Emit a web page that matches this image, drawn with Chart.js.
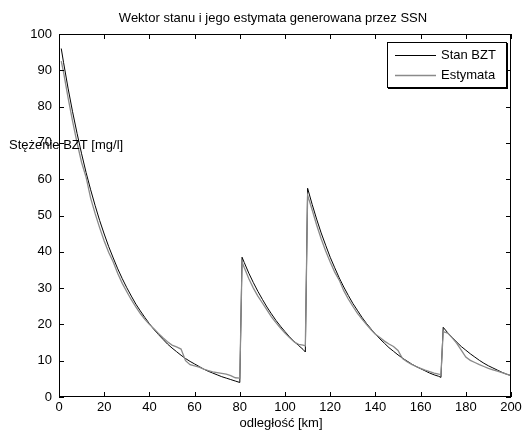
<!DOCTYPE html>
<html>
<head>
<meta charset="utf-8">
<script src="https://cdn.jsdelivr.net/npm/chart.js@4.4.1/dist/chart.umd.min.js"></script>
<style>
  html, body { margin: 0; padding: 0; background: #fff; }
  #wrap { width: 531px; height: 433px; }
</style>
</head>
<body>
<div id="wrap"><canvas id="bztChart" width="531" height="433"></canvas></div>
<script>
// odległość [km] - punkty pomiarowe
const kmPoints = [
  1, 2, 4, 6, 8, 10, 12, 14, 16, 18, 20, 22, 24, 26, 28, 30, 32, 34, 36, 38, 40,
  42, 44, 46, 48, 50, 52, 54, 56, 58, 60, 62, 64, 66, 68, 70, 72, 74, 76, 78, 80,
  81, 82, 84, 86, 88, 90, 92, 94, 96, 98, 100, 102, 104, 106, 108, 109,
  110, 112, 114, 116, 118, 120, 122, 124, 126, 128, 130, 132, 134, 136, 138, 140,
  142, 144, 146, 148, 150, 152, 154, 156, 158, 160, 162, 164, 166, 168, 169,
  170, 172, 174, 176, 178, 180, 182, 184, 186, 188, 190, 192, 194, 196, 198, 200
];

// Stan BZT [mg/l]
const stateValues = [
  96.0, 92.2, 85.1, 78.6, 72.6, 67.0, 61.8, 57.1, 52.7, 48.6, 44.9, 41.4, 38.3, 35.3, 32.6, 30.1, 27.8, 25.6, 23.7, 21.9, 20.2,
  18.6, 17.2, 15.9, 14.6, 13.5, 12.5, 11.5, 10.6, 9.8, 9.1, 8.4, 7.7, 7.1, 6.6, 6.1, 5.6, 5.2, 4.8, 4.4, 4.0,
  38.5, 37.0, 34.1, 31.5, 29.1, 26.9, 24.8, 22.9, 21.1, 19.5, 18.0, 16.6, 15.3, 14.2, 13.1, 12.4,
  57.5, 53.1, 49.0, 45.2, 41.8, 38.5, 35.6, 32.8, 30.3, 28.0, 25.8, 23.9, 22.0, 20.3, 18.8, 17.3,
  16.0, 14.8, 13.6, 12.6, 11.6, 10.7, 9.9, 9.1, 8.4, 7.8, 7.2, 6.6, 6.1, 5.7, 5.4,
  19.2, 17.7, 16.4, 15.1, 13.9, 12.9, 11.9, 11.0, 10.1, 9.3, 8.6, 8.0, 7.4, 6.8, 6.3, 5.9
];

// Estymata generowana przez SSN [mg/l]
const estimateValues = [
  92.5, 89.5, 82.5, 76.0, 70.0, 64.6, 60.5, 54.8, 50.5, 46.6, 43.0, 39.8, 37.2, 34.0, 31.3, 29.0, 26.8, 24.8, 23.0, 21.4, 20.0,
  18.8, 17.5, 16.3, 15.2, 14.3, 13.8, 13.2, 10.0, 8.9, 8.6, 8.2, 7.7, 7.3, 6.9, 6.7, 6.5, 6.3, 5.9, 5.3, 5.2,
  37.2, 35.6, 32.6, 30.0, 27.8, 25.9, 24.0, 22.1, 20.5, 19.0, 17.6, 16.4, 15.2, 14.5, 14.3, 14.1,
  55.6, 51.6, 47.4, 43.6, 40.2, 37.2, 34.4, 32.2, 29.3, 27.0, 25.0, 23.1, 21.5, 20.0, 18.6, 17.3,
  16.4, 15.4, 14.6, 13.9, 12.8, 10.6, 9.7, 9.0, 8.4, 7.9, 7.4, 7.0, 6.6, 6.3, 6.2,
  18.0, 17.6, 16.3, 14.8, 12.9, 11.0, 10.1, 9.5, 8.9, 8.4, 7.9, 7.5, 7.1, 6.7, 6.3, 5.9
];

const seriesNames = ['Stan BZT', 'Estymata'];
const seriesColors = ['#000000', '#8a8a8a'];
const xTicks = [0, 20, 40, 60, 80, 100, 120, 140, 160, 180, 200];
const yTicks = [0, 10, 20, 30, 40, 50, 60, 70, 80, 90, 100];

const FONT = 'Arial, "Liberation Sans", Helvetica, sans-serif';

// ramka, znaczniki do środka, tytuły i legenda w stylu MATLABa
const matlabDecor = {
  id: 'matlabDecor',
  afterDraw(chart) {
    const { ctx, chartArea: a, scales: { x, y } } = chart;
    ctx.save();
    ctx.strokeStyle = '#000';
    ctx.lineWidth = 1;
    ctx.strokeRect(a.left + 0.5, a.top + 0.5, a.right - a.left - 1, a.bottom - a.top - 1);

    const tl = 5;
    ctx.beginPath();
    xTicks.forEach(v => {
      const px = Math.round(x.getPixelForValue(v)) + 0.5;
      ctx.moveTo(px, a.bottom); ctx.lineTo(px, a.bottom - tl);
      ctx.moveTo(px, a.top); ctx.lineTo(px, a.top + tl);
    });
    yTicks.forEach(v => {
      const py = Math.round(y.getPixelForValue(v)) + 0.5;
      ctx.moveTo(a.left, py); ctx.lineTo(a.left + tl, py);
      ctx.moveTo(a.right, py); ctx.lineTo(a.right - tl, py);
    });
    ctx.stroke();

    ctx.fillStyle = '#000';
    ctx.font = '13px ' + FONT;
    ctx.textBaseline = 'middle';
    ctx.textAlign = 'center';
    ctx.fillText('Wektor stanu i jego estymata generowana przez SSN', 273, 18);
    ctx.fillText('odległość [km]', 281, 423);
    ctx.textAlign = 'left';
    ctx.fillText('Stężenie BZT [mg/l]', 9, 145);

    // legenda
    const lx = 387, ly = 42, lw = 119, lh = 45;
    ctx.fillStyle = '#fff';
    ctx.fillRect(lx, ly, lw, lh);
    ctx.lineWidth = 1;
    ctx.strokeRect(lx + 0.5, ly + 0.5, lw, lh);
    ctx.lineWidth = 2;
    ctx.beginPath();
    ctx.moveTo(lx + 1, ly + lh + 1); ctx.lineTo(lx + lw + 1, ly + lh + 1); ctx.lineTo(lx + lw + 1, ly + 1);
    ctx.stroke();
    const rows = [55, 75];
    seriesNames.forEach((name, i) => {
      ctx.strokeStyle = seriesColors[i];
      ctx.lineWidth = i === 0 ? 1 : 1.3;
      ctx.beginPath();
      ctx.moveTo(395, rows[i] + 0.5); ctx.lineTo(436, rows[i] + 0.5);
      ctx.stroke();
      ctx.fillStyle = '#000';
      ctx.fillText(name, 441, rows[i]);
    });
    ctx.restore();
  }
};

new Chart(document.getElementById('bztChart'), {
  type: 'line',
  data: {
    datasets: [
      {
        label: seriesNames[1],
        data: kmPoints.map((k, i) => ({ x: k, y: estimateValues[i] })),
        borderColor: seriesColors[1],
        borderWidth: 1.3,
        pointRadius: 0,
        tension: 0
      },
      {
        label: seriesNames[0],
        data: kmPoints.map((k, i) => ({ x: k, y: stateValues[i] })),
        borderColor: seriesColors[0],
        borderWidth: 1,
        pointRadius: 0,
        tension: 0
      }
    ]
  },
  options: {
    responsive: false,
    animation: false,
    events: [],
    layout: { padding: { top: 34, right: 20, bottom: 0, left: 0 } },
    plugins: {
      legend: { display: false },
      title: { display: false },
      tooltip: { enabled: false }
    },
    scales: {
      x: {
        type: 'linear',
        min: 0, max: 200,
        afterFit: s => { s.height = 36; },
        afterBuildTicks: s => { s.ticks = xTicks.map(v => ({ value: v })); },
        grid: { display: false, drawTicks: false },
        border: { display: false },
        ticks: { color: '#000', padding: 3, font: { size: 13, family: FONT }, maxRotation: 0, autoSkip: false }
      },
      y: {
        type: 'linear',
        min: 0, max: 100,
        afterFit: s => { s.width = 59; },
        afterBuildTicks: s => { s.ticks = yTicks.map(v => ({ value: v })); },
        grid: { display: false, drawTicks: false },
        border: { display: false },
        ticks: { color: '#000', padding: 7, font: { size: 13, family: FONT }, autoSkip: false }
      }
    }
  },
  plugins: [matlabDecor]
});
</script>
</body>
</html>
